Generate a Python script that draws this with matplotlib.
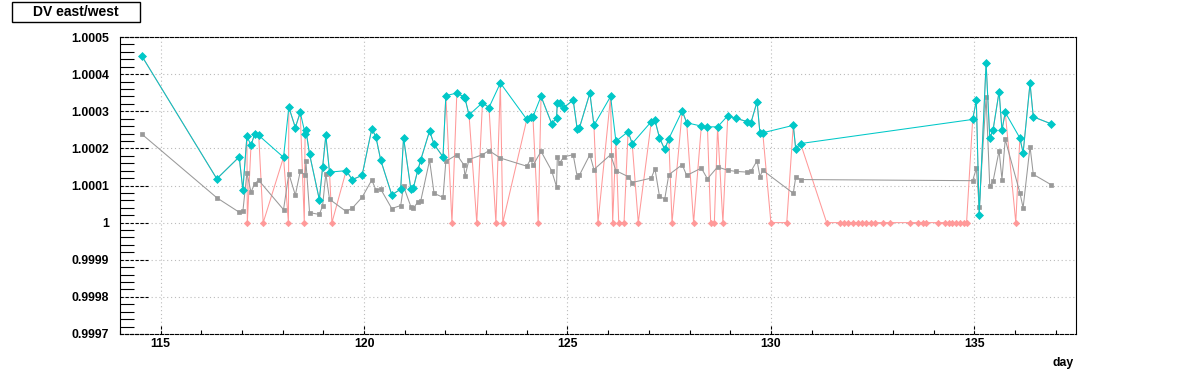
import numpy as np
import matplotlib
matplotlib.use("Agg")
import matplotlib.pyplot as plt
from matplotlib.patches import Rectangle

# days with a measurement (shared by the cyan and gray series)
days = [114.53, 116.38, 116.93, 117.02, 117.12, 117.22, 117.31, 117.41, 118.02, 118.15,
        118.31, 118.43, 118.55, 118.57, 118.66, 118.90, 118.98, 119.06, 119.15, 119.56,
        119.71, 119.95, 120.19, 120.29, 120.41, 120.68, 120.90, 120.97, 121.15, 121.21,
        121.32, 121.39, 121.61, 121.72, 121.94, 122.01, 122.28, 122.45, 122.48, 122.58,
        122.91, 123.07, 123.35, 124.00, 124.10, 124.15, 124.35, 124.61, 124.73, 124.75,
        124.81, 124.91, 125.14, 125.24, 125.29, 125.55, 125.65, 126.06, 126.19, 126.49,
        126.59, 127.06, 127.15, 127.26, 127.39, 127.49, 127.82, 127.93, 128.29, 128.44,
        128.69, 128.94, 129.14, 129.42, 129.51, 129.66, 129.73, 129.80, 130.55, 130.61,
        130.73, 134.96, 135.05, 135.12, 135.29, 135.38, 135.46, 135.61, 135.68, 135.76,
        136.12, 136.20, 136.37, 136.45, 136.89]

dv_cyan = [1.000450, 1.000118, 1.000177, 1.000088, 1.000233, 1.000208, 1.000239, 1.000235, 1.000176, 1.000311,
           1.000256, 1.000297, 1.000240, 1.000249, 1.000184, 1.000062, 1.000149, 1.000235, 1.000136, 1.000140,
           1.000116, 1.000127, 1.000253, 1.000231, 1.000168, 1.000075, 1.000090, 1.000229, 1.000090, 1.000093,
           1.000141, 1.000168, 1.000247, 1.000211, 1.000177, 1.000342, 1.000349, 1.000339, 1.000335, 1.000290,
           1.000323, 1.000310, 1.000376, 1.000278, 1.000285, 1.000285, 1.000340, 1.000267, 1.000281, 1.000322,
           1.000323, 1.000310, 1.000330, 1.000251, 1.000254, 1.000349, 1.000262, 1.000340, 1.000219, 1.000245,
           1.000213, 1.000272, 1.000276, 1.000229, 1.000197, 1.000226, 1.000301, 1.000269, 1.000260, 1.000258,
           1.000258, 1.000288, 1.000281, 1.000272, 1.000269, 1.000326, 1.000242, 1.000242, 1.000262, 1.000199,
           1.000213, 1.000278, 1.000329, 1.000020, 1.000430, 1.000228, 1.000249, 1.000353, 1.000249, 1.000297,
           1.000228, 1.000188, 1.000375, 1.000285, 1.000266]

dv_gray = [1.000239, 1.000067, 1.000028, 1.000030, 1.000134, 1.000082, 1.000105, 1.000114, 1.000035, 1.000132,
           1.000074, 1.000138, 1.000128, 1.000165, 1.000027, 1.000022, 1.000045, 1.000132, 1.000063, 1.000030,
           1.000039, 1.000068, 1.000115, 1.000088, 1.000090, 1.000038, 1.000046, 1.000098, 1.000043, 1.000039,
           1.000055, 1.000057, 1.000168, 1.000079, 1.000068, 1.000165, 1.000183, 1.000156, 1.000125, 1.000170,
           1.000183, 1.000194, 1.000174, 1.000152, 1.000172, 1.000154, 1.000192, 1.000140, 1.000097, 1.000176,
           1.000161, 1.000177, 1.000183, 1.000123, 1.000127, 1.000183, 1.000143, 1.000183, 1.000140, 1.000124,
           1.000108, 1.000120, 1.000145, 1.000072, 1.000063, 1.000129, 1.000156, 1.000127, 1.000147, 1.000118,
           1.000150, 1.000141, 1.000138, 1.000136, 1.000138, 1.000167, 1.000124, 1.000141, 1.000079, 1.000122,
           1.000116, 1.000113, 1.000146, 1.000043, 1.000339, 1.000098, 1.000111, 1.000194, 1.000116, 1.000224,
           1.000081, 1.000040, 1.000205, 1.000130, 1.000102]

# extra days where the pink series sits at exactly 1
pink_one_days = [117.13, 117.52, 118.14, 118.53, 119.21, 122.16, 122.77, 123.24, 123.41, 124.28,
                 125.75, 126.11, 126.26, 126.39, 126.74, 127.57, 128.10, 128.52, 128.61, 128.82,
                 130.00, 130.39, 131.37, 131.69, 131.79, 131.89, 132.03, 132.13, 132.23, 132.35,
                 132.45, 132.55, 132.75, 132.94, 133.41, 133.61, 133.75, 133.82, 134.12, 134.29,
                 134.38, 134.46, 134.56, 134.66, 134.74, 134.81, 136.02]

ytick_vals = [0.9997, 0.9998, 0.9999, 1.0, 1.0001, 1.0002, 1.0003, 1.0004, 1.0005]
ytick_labels = ["0.9997", "0.9998", "0.9999", "1", "1.0001", "1.0002", "1.0003", "1.0004", "1.0005"]
xtick_vals = [115, 120, 125, 130, 135]

plt.rcParams['font.family'] = ['Liberation Sans', 'DejaVu Sans']
plt.rcParams['font.weight'] = 'bold'

W, H = 1196, 372
fig = plt.figure(figsize=(W / 100, H / 100), dpi=100)
ax = fig.add_axes([120 / W, 38 / H, 956 / W, 297 / H])

pink_x = np.array(days + pink_one_days)
pink_y = np.array(dv_cyan + [1.0] * len(pink_one_days))
order = np.argsort(pink_x, kind='stable')

ax.plot(pink_x[order], pink_y[order], color='#ff9999', lw=0.75, marker='D', ms=3.2,
        mfc='#ff9999', mec='#ff9999', mew=0.5, zorder=3)
ax.plot(days, dv_gray, color='#999999', lw=0.75, marker='s', ms=2.3,
        mfc='#999999', mec='#999999', mew=0.5, zorder=4)
ax.plot(days, dv_cyan, color='#00c8c8', lw=0.75, marker='D', ms=3.6,
        mfc='#00c8c8', mec='#00c8c8', mew=0.5, zorder=5)

ax.set_xlim(114.0, 137.5)
ax.set_ylim(0.9997, 1.0005)
ax.set_xticks(xtick_vals)
ax.set_xticks(np.arange(114, 138), minor=True)
ax.set_yticks(ytick_vals)
ax.set_yticklabels(ytick_labels)
ax.set_yticks(np.arange(0.99970, 1.00050, 0.00002), minor=True)

ax.tick_params(axis='both', which='major', direction='in', length=0, labelsize=8.8)
ax.tick_params(axis='y', which='major', pad=8)
ax.tick_params(axis='x', which='major', pad=3)
ax.tick_params(axis='y', which='minor', direction='in', length=10, width=0.8)
ax.tick_params(axis='x', which='minor', direction='in', length=2.6, width=0.8)

# dashed major ticks, ROOT style
dash = (0, (3, 1.5))
ytr = ax.get_yaxis_transform()
for v in ytick_vals:
    ax.plot([0, 28 / 956], [v, v], transform=ytr, color='black', lw=0.8, ls=dash,
            clip_on=False, zorder=6)
xtr = ax.get_xaxis_transform()
for v in xtick_vals:
    ax.plot([v, v], [0, 8 / 297], transform=xtr, color='black', lw=0.8, ls=dash,
            clip_on=False, zorder=6)

ax.grid(True, which='major', color='#bbbbbb', ls=(0, (1, 2.5)), lw=0.8)
ax.set_axisbelow(True)

for side in ['top', 'bottom']:
    ax.spines[side].set_linestyle(dash)
for side in ax.spines:
    ax.spines[side].set_linewidth(0.8)
    ax.spines[side].set_color('black')

fig.text(1074 / W, 1 - 363 / H, 'day', ha='right', va='center', fontsize=8.8, fontweight='bold')

fig.add_artist(Rectangle((12 / W, 1 - 21.5 / H), 127.5 / W, 19.5 / H, transform=fig.transFigure,
                         facecolor='white', edgecolor='black', lw=1))
fig.text(76 / W, 1 - 11.8 / H, 'DV east/west', ha='center', va='center', fontsize=10, fontweight='bold')

fig.savefig('out.png', dpi=100)
